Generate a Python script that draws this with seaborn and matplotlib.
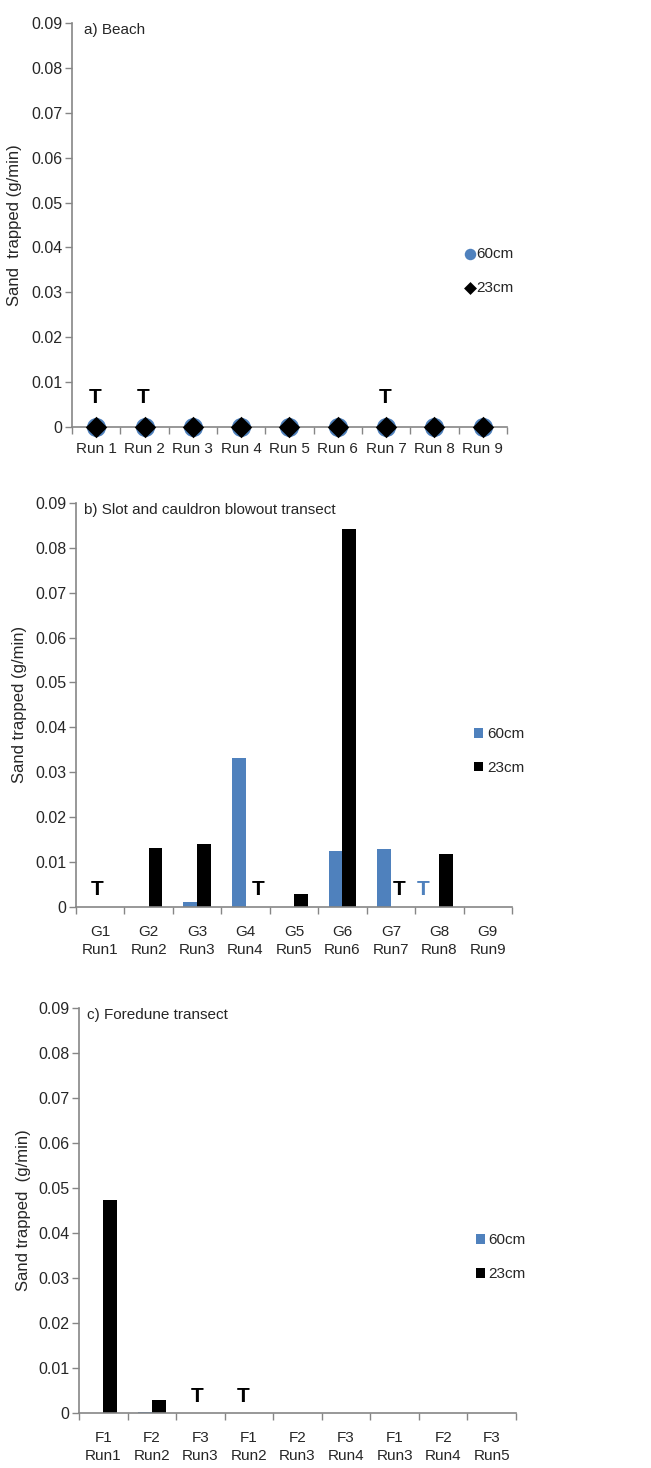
"""
Sand trap results for three transects: beach, slot/cauldron blowout and foredune.
"""

import numpy as np
import pandas as pd
import matplotlib
matplotlib.use("Agg")
import matplotlib.pyplot as plt
import seaborn as sns

# ---- data ----
beach_runs = ["Run 1", "Run 2", "Run 3", "Run 4", "Run 5", "Run 6", "Run 7", "Run 8", "Run 9"]
beach_60 = [0, 0, 0, 0, 0, 0, 0, 0, 0]
beach_23 = [0, 0, 0, 0, 0, 0, 0, 0, 0]
beach_trace = ["Run 1", "Run 2", "Run 7"]

slot_runs = ["G1\nRun1", "G2\nRun2", "G3\nRun3", "G4\nRun4", "G5\nRun5",
             "G6\nRun6", "G7\nRun7", "G8\nRun8", "G9\nRun9"]
slot_60 = [0, 0, 0.0011, 0.0332, 0, 0.0124, 0.0130, 0, 0]
slot_23 = [0, 0.0131, 0.0141, 0, 0.0029, 0.0843, 0, 0.0119, 0]
slot_trace = [("G1\nRun1", "23cm"), ("G4\nRun4", "23cm"), ("G7\nRun7", "23cm"), ("G8\nRun8", "60cm")]

fore_runs = ["F1\nRun1", "F2\nRun2", "F3\nRun3", "F1\nRun2", "F2\nRun3",
             "F3\nRun4", "F1\nRun3", "F2\nRun4", "F3\nRun5"]
fore_60 = [0, 0.0001, 0, 0, 0, 0, 0, 0, 0]
fore_23 = [0.0473, 0.0028, 0, 0, 0, 0, 0, 0, 0]
fore_trace = [("F3\nRun3", "23cm"), ("F1\nRun2", "23cm")]

heights = ["60cm", "23cm"]

BLUE = "#4F81BD"
GREY = "#868686"
FS = 11


def style_axes(ax, labels, ylabel, title, title_x, ylabel_x, pad):
    ax.set_xlim(-0.5, len(labels) - 0.5)
    ax.set_ylim(0, 0.09)
    yt = [0, 0.01, 0.02, 0.03, 0.04, 0.05, 0.06, 0.07, 0.08, 0.09]
    ax.set_yticks(yt)
    ax.set_yticklabels(["0" if v == 0 else f"{v:.2f}" for v in yt], fontsize=11.5)
    ax.set_xticks(range(len(labels)))
    ax.set_xticklabels(labels, fontsize=FS)
    for t in ax.get_xticklabels():
        t.set_linespacing(1.4)
    ax.set_xticks(np.arange(-0.5, len(labels), 1), minor=True)
    ax.tick_params(axis="x", which="major", length=0, pad=pad)
    ax.tick_params(axis="x", which="minor", length=5, color=GREY, width=1, bottom=True)
    ax.tick_params(axis="y", which="major", length=5, color=GREY, width=1, left=True, pad=2)
    for s in ["top", "right"]:
        ax.spines[s].set_visible(False)
    for s in ["left", "bottom"]:
        ax.spines[s].set_color(GREY)
        ax.spines[s].set_linewidth(1.2)
    ax.set_xlabel("")
    ax.set_ylabel(ylabel, fontsize=12)
    ax.yaxis.set_label_coords(ylabel_x, 0.5)
    ax.text(title_x, 1.0, title, transform=ax.transAxes, va="top", ha="left", fontsize=FS)
    ax.grid(False)


def bar_panel(ax, runs, v60, v23):
    df = pd.DataFrame({
        "Run": runs * 2,
        "Height": ["60cm"] * len(runs) + ["23cm"] * len(runs),
        "Sand": v60 + v23,
    })
    sns.barplot(data=df, x="Run", y="Sand", hue="Height", hue_order=heights,
                order=runs, palette=[BLUE, "black"], saturation=1, width=0.57, gap=0,
                linewidth=0, ax=ax, legend=True)


sns.set_theme(style="white")
plt.rcParams["font.family"] = ["Liberation Sans", "DejaVu Sans"]

fig = plt.figure(figsize=(6.51, 14.68), dpi=100)
ax_a = fig.add_axes([0.1106, 0.7091, 0.6682, 0.2752])
ax_b = fig.add_axes([0.1167, 0.3822, 0.6698, 0.2752])
ax_c = fig.add_axes([0.1214, 0.0375, 0.6712, 0.2759])

# a) Beach - points, 60cm circle behind 23cm diamond
sns.scatterplot(x=beach_runs, y=beach_60, marker="o", s=190, color=BLUE,
                linewidth=0, label="60cm", ax=ax_a, zorder=3, clip_on=False)
sns.scatterplot(x=beach_runs, y=beach_23, marker="D", s=120, color="black",
                linewidth=0, label="23cm", ax=ax_a, zorder=4, clip_on=False)
style_axes(ax_a, beach_runs, "Sand  trapped (g/min)", "a) Beach", 0.028, -0.115, 11)
for r in beach_trace:
    ax_a.text(beach_runs.index(r) - 0.02, 0.0065, "T", ha="center", va="center",
              fontsize=15, fontweight="bold", color="black")
ax_a.legend(loc="center left", bbox_to_anchor=(0.9, 0.386), frameon=False,
            fontsize=FS, handlelength=0.8, handletextpad=0.05, labelspacing=1.3,
            borderaxespad=0, borderpad=0, markerscale=0.6)

# b) Slot and cauldron blowout transect
bar_panel(ax_b, slot_runs, slot_60, slot_23)
style_axes(ax_b, slot_runs, "Sand trapped (g/min)", "b) Slot and cauldron blowout transect",
           0.018, -0.112, 13)
slot_shift = [-0.06, 0.26, 0.17, -0.34]
for (r, h), dx in zip(slot_trace, slot_shift):
    ax_b.text(slot_runs.index(r) + dx, 0.0039, "T", ha="center", va="center",
              fontsize=15, fontweight="bold", color=BLUE if h == "60cm" else "black")
ax_b.legend(loc="center left", bbox_to_anchor=(0.912, 0.386), frameon=False,
            fontsize=FS, handlelength=0.6, handleheight=0.6, handletextpad=0.3,
            labelspacing=1.3, borderaxespad=0, borderpad=0)

# c) Foredune transect
bar_panel(ax_c, fore_runs, fore_60, fore_23)
style_axes(ax_c, fore_runs, "Sand trapped  (g/min)", "c) Foredune transect",
           0.018, -0.110, 13)
fore_shift = [-0.06, -0.11]
for (r, h), dx in zip(fore_trace, fore_shift):
    ax_c.text(fore_runs.index(r) + dx, 0.0037, "T", ha="center", va="center",
              fontsize=15, fontweight="bold", color=BLUE if h == "60cm" else "black")
ax_c.legend(loc="center left", bbox_to_anchor=(0.908, 0.384), frameon=False,
            fontsize=FS, handlelength=0.6, handleheight=0.6, handletextpad=0.2,
            labelspacing=1.3, borderaxespad=0, borderpad=0)

fig.savefig("out.png", dpi=100, facecolor="white")
plt.close(fig)
